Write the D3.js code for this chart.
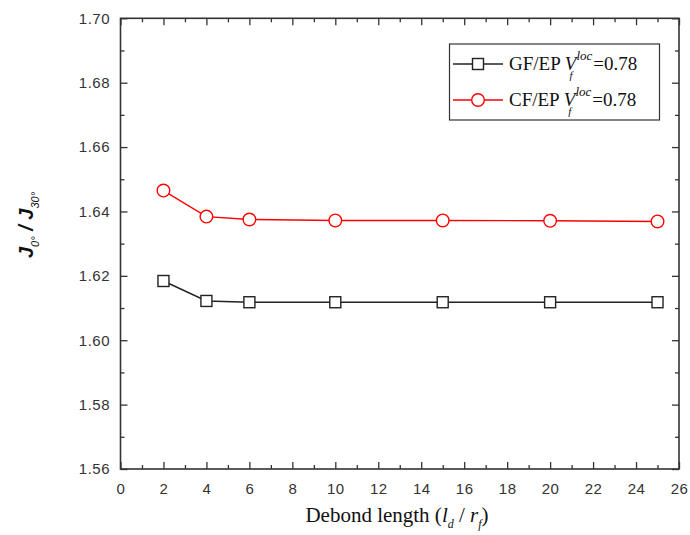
<!DOCTYPE html>
<html><head><meta charset="utf-8">
<script src="https://cdn.jsdelivr.net/npm/d3@7"></script>
<style>body{margin:0;background:#fff}svg{display:block}</style>
</head><body>
<script>
const xValues = [2, 4, 6, 10, 15, 20, 25];
const gfValues = [1.6184, 1.6122, 1.6118, 1.6118, 1.6118, 1.6118, 1.6118];
const cfValues = [1.6465, 1.6384, 1.6375, 1.6372, 1.6372, 1.6371, 1.6369];
const xTicks = [0,2,4,6,8,10,12,14,16,18,20,22,24,26];
const yTicks = [1.56,1.58,1.60,1.62,1.64,1.66,1.68,1.70];
const seriesNames = ["GF/EP", "CF/EP"];

const W = 690, H = 535;
const L = 120.5, R = 679, T = 18.3, B = 469;
const svg = d3.select("body").append("svg").attr("width", W).attr("height", H);
const x = d3.scaleLinear().domain([0, 26]).range([L, R]);
const y = d3.scaleLinear().domain([1.56, 1.70]).range([B, T]);
const axisColor = "#333";
const serif = "'Liberation Serif', 'Times New Roman', 'DejaVu Serif', serif";
const sans = "'Liberation Sans', Arial, sans-serif";

const minorX = d3.range(1, 26, 2);
const minorY = yTicks.slice(0, -1).map(v => +(v + 0.01).toFixed(2));

function styleAxis(g){
  g.select(".domain").remove();
  g.selectAll(".tick line").attr("stroke", axisColor).attr("stroke-width", 1.3);
  g.selectAll(".tick text").attr("fill", "#333").style("font-family", sans).style("font-size", "15px").style("letter-spacing", "0.5px");
}
// bottom
svg.append("g").attr("transform", `translate(0,${B})`)
  .call(d3.axisBottom(x).tickValues(xTicks).tickFormat(d3.format("d")).tickSizeInner(-7).tickSizeOuter(0).tickPadding(14))
  .call(styleAxis);
svg.append("g").attr("transform", `translate(0,${B})`)
  .call(d3.axisBottom(x).tickValues(minorX).tickFormat("").tickSizeInner(-4).tickSizeOuter(0))
  .call(styleAxis);
// top
svg.append("g").attr("transform", `translate(0,${T})`)
  .call(d3.axisTop(x).tickValues(xTicks).tickFormat("").tickSizeInner(-7).tickSizeOuter(0)).call(styleAxis);
svg.append("g").attr("transform", `translate(0,${T})`)
  .call(d3.axisTop(x).tickValues(minorX).tickFormat("").tickSizeInner(-4).tickSizeOuter(0)).call(styleAxis);
// left
svg.append("g").attr("transform", `translate(${L},0)`)
  .call(d3.axisLeft(y).tickValues(yTicks).tickFormat(d3.format(".2f")).tickSizeInner(-7).tickSizeOuter(0).tickPadding(10.5))
  .call(styleAxis);
svg.append("g").attr("transform", `translate(${L},0)`)
  .call(d3.axisLeft(y).tickValues(minorY).tickFormat("").tickSizeInner(-4).tickSizeOuter(0)).call(styleAxis);
// right
svg.append("g").attr("transform", `translate(${R},0)`)
  .call(d3.axisRight(y).tickValues(yTicks).tickFormat("").tickSizeInner(-7).tickSizeOuter(0)).call(styleAxis);
svg.append("g").attr("transform", `translate(${R},0)`)
  .call(d3.axisRight(y).tickValues(minorY).tickFormat("").tickSizeInner(-4).tickSizeOuter(0)).call(styleAxis);

// frame
svg.append("rect").attr("x", L).attr("y", T).attr("width", R - L).attr("height", B - T)
  .attr("fill", "none").attr("stroke", axisColor).attr("stroke-width", 1.6);

const line = d3.line().x(d => x(d[0])).y(d => y(d[1]));
const gfData = xValues.map((v, i) => [v, gfValues[i]]);
const cfData = xValues.map((v, i) => [v, cfValues[i]]);

svg.append("path").datum(gfData).attr("d", line).attr("fill", "none").attr("stroke", "#222").attr("stroke-width", 1.4);
svg.append("path").datum(cfData).attr("d", line).attr("fill", "none").attr("stroke", "#f00").attr("stroke-width", 1.4);

const sq = 11;
svg.selectAll(".sq").data(gfData).enter().append("rect")
  .attr("x", d => x(d[0]) - sq/2).attr("y", d => y(d[1]) - sq/2).attr("width", sq).attr("height", sq)
  .attr("fill", "#fff").attr("stroke", "#222").attr("stroke-width", 1.4);
svg.selectAll(".ci").data(cfData).enter().append("circle")
  .attr("cx", d => x(d[0])).attr("cy", d => y(d[1])).attr("r", 6.3)
  .attr("fill", "#fff").attr("stroke", "#f00").attr("stroke-width", 1.4);

// legend
const lg = svg.append("g");
lg.append("rect").attr("x", 449.5).attr("y", 44).attr("width", 210).attr("height", 76)
  .attr("fill", "#fff").attr("stroke", "#333").attr("stroke-width", 1.2);
const legendRows = [
  {name: seriesNames[0], color: "#222", shape: "sq", yy: 64},
  {name: seriesNames[1], color: "#f00", shape: "ci", yy: 100}
];
legendRows.forEach(r => {
  lg.append("line").attr("x1", 453).attr("x2", 503).attr("y1", r.yy).attr("y2", r.yy)
    .attr("stroke", r.color).attr("stroke-width", 1.4);
  if (r.shape === "sq") {
    lg.append("rect").attr("x", 478 - sq/2).attr("y", r.yy - sq/2).attr("width", sq).attr("height", sq)
      .attr("fill", "#fff").attr("stroke", r.color).attr("stroke-width", 1.4);
  } else {
    lg.append("circle").attr("cx", 478).attr("cy", r.yy).attr("r", 6.3)
      .attr("fill", "#fff").attr("stroke", r.color).attr("stroke-width", 1.4);
  }
  const t = lg.append("text").attr("x", 509).attr("y", r.yy + 6)
    .style("font-family", serif).style("font-size", "19px").attr("fill", "#111");
  t.append("tspan").text(r.name + " ");
  t.append("tspan").text("V").style("font-style", "italic");
  t.append("tspan").text("f").attr("dx", -7).attr("dy", 9).style("font-size", "11px").style("font-style", "italic");
  t.append("tspan").text("loc").attr("dx", 4).attr("dy", -19).style("font-size", "13px").style("font-style", "italic");
  t.append("tspan").text("=0.78").attr("dx", 1).attr("dy", 10);
});

// x axis title
const xt = svg.append("text").attr("x", 397).attr("y", 522).attr("text-anchor", "middle")
  .style("font-family", serif).style("font-size", "21px").attr("fill", "#111");
xt.append("tspan").text("Debond length (");
xt.append("tspan").text("l").style("font-style", "italic");
xt.append("tspan").text("d").attr("dy", 6).style("font-size", "12px").style("font-style", "italic");
xt.append("tspan").text(" / ").attr("dy", -6);
xt.append("tspan").text("r").style("font-style", "italic");
xt.append("tspan").text("f").attr("dy", 6).style("font-size", "12px").style("font-style", "italic");
xt.append("tspan").text(")").attr("dy", -6);

// y axis title
const yt = svg.append("text").attr("transform", `translate(33,225) rotate(-90)`).attr("text-anchor", "middle")
  .style("font-family", sans).style("font-size", "20px").style("font-weight", "bold").style("font-style", "italic").attr("fill", "#111");
yt.append("tspan").text("J");
yt.append("tspan").text("0°").attr("dy", 6).style("font-size", "11px").style("font-weight", "normal");
yt.append("tspan").text(" / ").attr("dy", -6);
yt.append("tspan").text("J");
yt.append("tspan").text("30°").attr("dy", 6).style("font-size", "11px").style("font-weight", "normal");
</script>
</body></html>
